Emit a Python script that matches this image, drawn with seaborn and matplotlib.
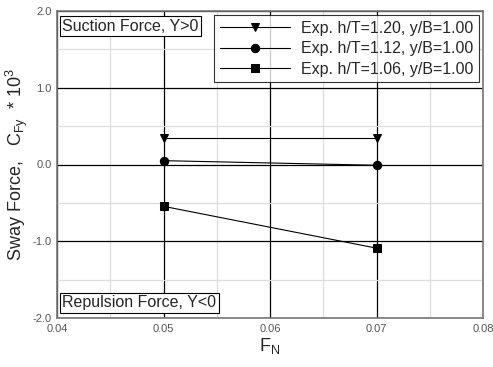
import matplotlib
matplotlib.use("Agg")
import matplotlib.pyplot as plt
import seaborn as sns
import pandas as pd
from matplotlib.ticker import MultipleLocator

sns.set_style("white")
plt.rcParams['font.family'] = ['Liberation Sans', 'DejaVu Sans']

fn = [0.05, 0.07]
cfy_120 = [0.35, 0.35]
cfy_112 = [0.05, -0.01]
cfy_106 = [-0.545, -1.09]
labels = ["Exp. h/T=1.20, y/B=1.00", "Exp. h/T=1.12, y/B=1.00", "Exp. h/T=1.06, y/B=1.00"]
markers = ["v", "o", "s"]

df = pd.concat([
    pd.DataFrame({"FN": fn, "CFy": v, "series": lab})
    for v, lab in zip([cfy_120, cfy_112, cfy_106], labels)
])

fig = plt.figure(figsize=(4.93, 3.67), dpi=100)
ax = fig.add_axes([57/493, 1-318/367, (483-57)/493, (318-11)/367])

ax.xaxis.set_major_locator(MultipleLocator(0.01))
ax.xaxis.set_minor_locator(MultipleLocator(0.005))
ax.yaxis.set_major_locator(MultipleLocator(1.0))
ax.yaxis.set_minor_locator(MultipleLocator(0.5))
ax.grid(which="minor", color="#dddddd", lw=0.9)
ax.grid(which="major", color="black", lw=0.9)
ax.set_axisbelow(True)

for lab, m in zip(labels, markers):
    sub = df[df.series == lab]
    sns.lineplot(data=sub, x="FN", y="CFy", ax=ax, color="black", lw=0.8,
                 marker=m, markersize=6, markeredgecolor="black", label=lab)

ax.set_xlim(0.04, 0.08)
ax.set_ylim(-2.0, 2.0)
ax.set_xticks([0.04, 0.05, 0.06, 0.07, 0.08])
ax.set_xticklabels(["0.04", "0.05", "0.06", "0.07", "0.08"])
ax.set_yticks([-2, -1, 0, 1, 2])
ax.set_yticklabels(["-2.0", "-1.0", "0.0", "1.0", "2.0"])
ax.tick_params(axis="both", which="both", direction="in", labelsize=8,
               labelcolor="#555555", color="#555555", length=3, pad=4)
for s in ax.spines.values():
    s.set_color("#777777")
    s.set_linewidth(1.2)

ax.set_xlabel(r"F$_\mathregular{N}$", fontsize=13, labelpad=2)
ax.set_ylabel(r"Sway Force,   C$_\mathregular{Fy}$  * 10$^\mathregular{3}$", fontsize=13, labelpad=2)

leg = ax.legend(loc="upper right", fontsize=11.5, frameon=True, fancybox=False,
                handlelength=4.4, borderaxespad=0.25, labelspacing=0.35,
                borderpad=0.35, handletextpad=0.7, handleheight=0.6)
leg.get_frame().set_edgecolor("black")
leg.get_frame().set_linewidth(0.8)

ax.text(0.012, 0.975, "Suction Force, Y>0", transform=ax.transAxes, fontsize=11.5,
        va="top", ha="left",
        bbox=dict(boxstyle="square,pad=0.15", fc="white", ec="black", lw=0.8))
ax.text(0.012, 0.025, "Repulsion Force, Y<0", transform=ax.transAxes, fontsize=11.5,
        va="bottom", ha="left",
        bbox=dict(boxstyle="square,pad=0.15", fc="white", ec="black", lw=0.8))

fig.savefig("out.png", dpi=100)
